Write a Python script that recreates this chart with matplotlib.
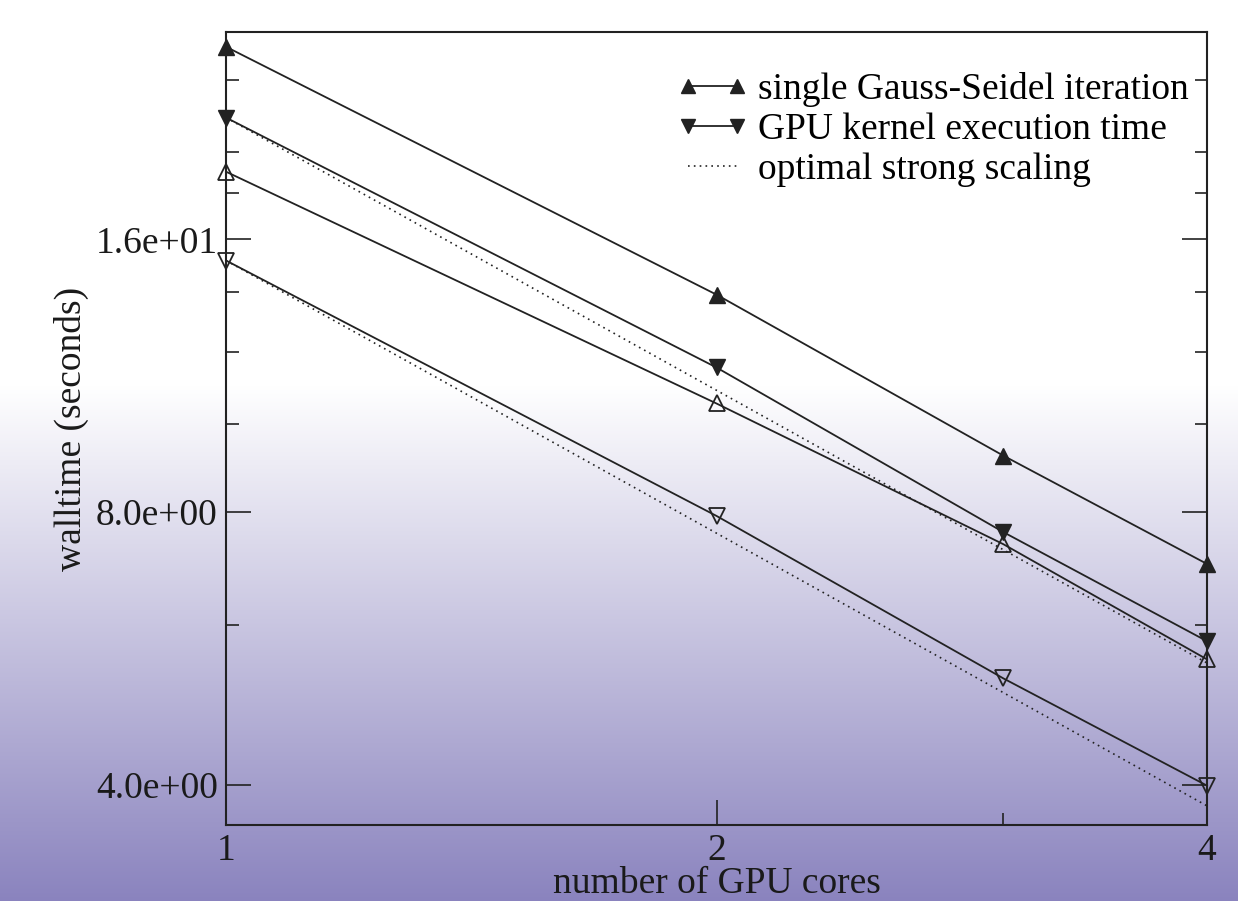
import numpy as np
import matplotlib
matplotlib.use("Agg")
import matplotlib.pyplot as plt
from matplotlib.ticker import FixedLocator, NullFormatter, FixedFormatter

# ---- data ----
cores = [1, 2, 3, 4]
gauss_seidel = [26.1, 13.9, 9.23, 7.01]        # filled up-triangles
gpu_kernel = [21.8, 11.55, 7.60, 5.76]          # filled down-triangles
gauss_seidel_b = [19.0, 10.54, 7.37, 5.50]      # open up-triangles
gpu_kernel_b = [15.16, 7.92, 5.24, 3.99]        # open down-triangles
optimal_ref = [gpu_kernel[0], gpu_kernel_b[0]]  # starting points of optimal scaling lines

x_ticks = [1, 2, 4]
x_tick_labels = ["1", "2", "4"]
x_minor = [3]
y_ticks = [4, 8, 16]
y_tick_labels = ["4.0e+00", "8.0e+00", "1.6e+01"]
y_minor = [6, 10, 12, 14, 18, 20, 24]

legend_labels = ["single Gauss-Seidel iteration", "GPU kernel execution time",
                 "optimal strong scaling"]

plt.rcParams['font.family'] = ['Liberation Serif', 'DejaVu Serif']
FS = 27
plt.rcParams['font.size'] = FS

fig = plt.figure(figsize=(12.38, 9.01), dpi=100)

# background gradient
H = 901
bg = fig.add_axes([0, 0, 1, 1], zorder=-10)
rows = np.arange(H)
t = np.clip((rows - 385) / (H - 385), 0, 1)
top = np.array([255, 255, 255]) / 255
bot = np.array([138, 131, 190]) / 255
grad = top[None, :] * (1 - t[:, None]) + bot[None, :] * t[:, None]
img = np.repeat(grad[:, None, :], 4, axis=1)
bg.imshow(img, aspect='auto', extent=[0, 1, 0, 1], origin='upper')
bg.set_axis_off()

ax = fig.add_axes([226 / 1238, 1 - 825 / 901, (1207 - 226) / 1238, (825 - 32) / 901])
ax.set_facecolor('none')
ax.set_xscale('log', base=2)
ax.set_yscale('log', base=2)

lc = '#222222'
lw = 1.3
ms = 12
l1, = ax.plot(cores, gauss_seidel, color=lc, lw=lw, marker='^', ms=ms,
              mfc=lc, mec=lc, clip_on=False)
l2, = ax.plot(cores, gpu_kernel, color=lc, lw=lw, marker='v', ms=ms,
              mfc=lc, mec=lc, clip_on=False)
ax.plot(cores, gauss_seidel_b, color=lc, lw=lw, marker='^', ms=ms,
        mfc='none', mec=lc, mew=1.3, clip_on=False)
ax.plot(cores, gpu_kernel_b, color=lc, lw=lw, marker='v', ms=ms,
        mfc='none', mec=lc, mew=1.3, clip_on=False)
l3 = None
for ref in optimal_ref:
    opt = [ref / c for c in cores]
    l3, = ax.plot(cores, opt, color=lc, lw=1.2, ls=(0, (1, 2.5)), clip_on=False)

ax.set_xlim(1, 4)
ax.set_ylim(3.61, 27.1)

ax.xaxis.set_major_locator(FixedLocator(x_ticks))
ax.xaxis.set_major_formatter(FixedFormatter(x_tick_labels))
ax.xaxis.set_minor_locator(FixedLocator(x_minor))
ax.xaxis.set_minor_formatter(NullFormatter())
ax.yaxis.set_major_locator(FixedLocator(y_ticks))
ax.yaxis.set_major_formatter(FixedFormatter(y_tick_labels))
ax.yaxis.set_minor_locator(FixedLocator(y_minor))
ax.yaxis.set_minor_formatter(NullFormatter())

ax.tick_params(which='both', direction='in', colors=lc, labelcolor='#1a1a1a',
               left=True, right=True, top=False, bottom=True, labelsize=FS)
ax.tick_params(which='major', length=18, width=1.2, pad=6)
ax.tick_params(which='minor', length=9, width=1.2)
for s in ax.spines.values():
    s.set_color(lc)
    s.set_linewidth(1.5)

ax.set_xlabel("number of GPU cores", fontsize=FS, labelpad=-1, color='#1a1a1a')
ax.set_ylabel("walltime (seconds)", fontsize=FS, labelpad=5, color='#1a1a1a')

leg = ax.legend([l1, l2, l3], legend_labels, loc='upper right',
                bbox_to_anchor=(1.008, 0.983), frameon=False, numpoints=2,
                handlelength=1.9, handletextpad=0.25, labelspacing=0.15,
                fontsize=FS, borderaxespad=0.3)
for line in leg.get_lines():
    line.set_markersize(10)

fig.savefig("out.png", dpi=100)
